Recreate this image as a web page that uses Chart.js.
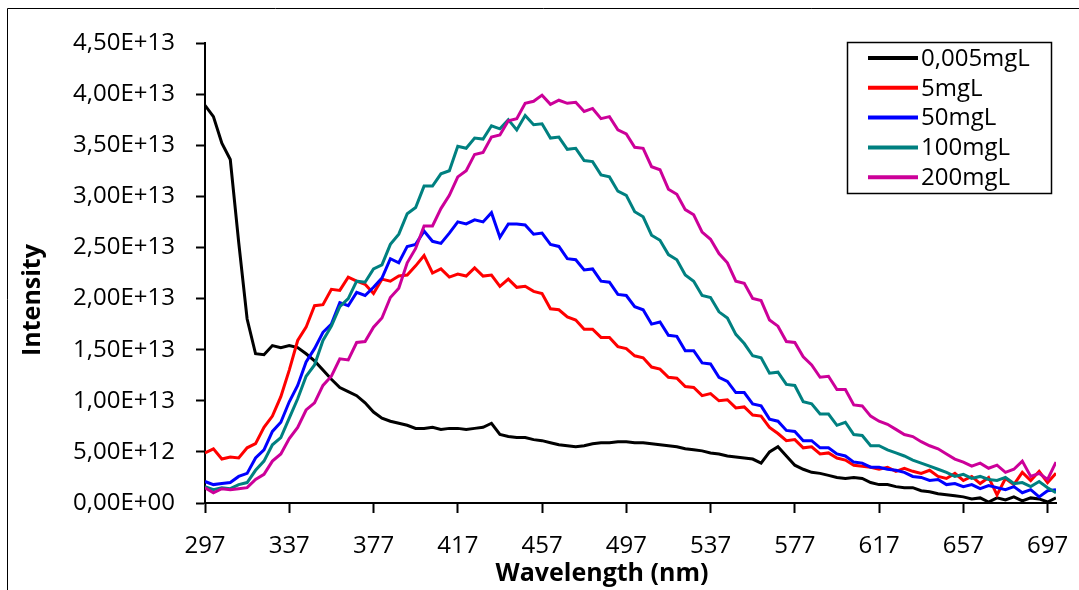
<!DOCTYPE html>
<html>
<head>
<meta charset="utf-8">
<script src="https://cdn.jsdelivr.net/npm/chart.js@4"></script>
<style>
  html, body { margin: 0; padding: 0; background: #fff; }
  #wrap { width: 1079px; height: 590px; position: relative; }
</style>
</head>
<body>
<div id="wrap"><canvas id="c" width="1079" height="590"></canvas></div>
<script>
// Wavelength grid (nm), sampled every 4 nm
const wavelengths = [];
for (let w = 297; w <= 701; w += 4) wavelengths.push(w);

const xTickValues = [297, 337, 377, 417, 457, 497, 537, 577, 617, 657, 697];
const yTickValues = [0, 5e12, 1e13, 1.5e13, 2e13, 2.5e13, 3e13, 3.5e13, 4e13, 4.5e13];

const seriesNames = ["0,005mgL", "5mgL", "50mgL", "100mgL", "200mgL"];
const seriesColors = ["#000000", "#FF0000", "#0000FF", "#008080", "#CC0099"];

// Intensities in units of 1E+12
const s0005 = [38.9,37.8,35.2,33.6,25.5,18.0,14.6,14.5,15.4,15.2,15.4,15.2,14.6,13.9,13.0,12.1,11.3,10.9,10.5,9.8,
  8.9,8.3,8.0,7.8,7.6,7.3,7.3,7.4,7.2,7.3,7.3,7.2,7.3,7.4,7.8,6.7,6.5,6.4,6.4,6.2,
  6.1,5.9,5.7,5.6,5.5,5.6,5.8,5.9,5.9,6.0,6.0,5.9,5.9,5.8,5.7,5.6,5.5,5.3,5.2,5.1,
  4.9,4.8,4.6,4.5,4.4,4.3,3.9,5.0,5.5,4.6,3.7,3.3,3.0,2.9,2.7,2.5,2.4,2.5,2.4,2.0,
  1.8,1.8,1.6,1.5,1.5,1.2,1.1,0.9,0.8,0.7,0.6,0.4,0.5,0.1,0.5,0.3,0.6,0.2,0.5,0.4,0.1,0.5];
const s5 = [4.9,5.3,4.3,4.5,4.4,5.4,5.8,7.4,8.5,10.4,13.0,15.9,17.2,19.3,19.4,20.9,20.8,22.1,21.7,21.4,
  20.5,21.9,21.7,22.2,22.3,23.2,24.2,22.5,22.9,22.1,22.4,22.2,23.0,22.2,22.3,21.2,21.9,21.1,21.2,20.7,
  20.5,19.0,18.9,18.2,17.9,17.0,17.0,16.2,16.2,15.3,15.1,14.4,14.2,13.3,13.1,12.3,12.2,11.4,11.3,10.5,
  10.7,10.0,10.1,9.3,9.4,8.6,8.5,7.4,6.8,6.1,6.2,5.4,5.5,4.8,4.9,4.4,4.2,3.7,3.6,3.5,
  3.3,3.5,3.1,3.4,3.1,2.9,3.2,2.6,2.4,2.9,2.2,2.6,1.9,2.5,0.8,2.4,1.8,3.0,2.2,3.1,2.0,2.9];
const s50 = [2.1,1.8,1.9,2.0,2.6,2.9,4.4,5.2,7.0,7.9,9.9,11.5,13.8,15.1,16.7,17.5,19.6,19.3,20.6,20.3,
  21.1,22.0,23.9,23.5,25.1,25.3,26.6,25.6,25.4,26.4,27.5,27.3,27.7,27.5,28.4,26.0,27.3,27.3,27.2,26.3,
  26.4,25.3,25.1,23.9,23.8,22.8,22.9,21.7,21.6,20.4,20.3,19.2,18.9,17.5,17.7,16.4,16.3,14.9,14.9,13.7,
  13.6,12.3,11.9,10.8,10.8,9.7,9.5,8.2,8.0,7.1,7.0,6.1,6.1,5.4,5.4,4.8,4.6,4.0,3.9,3.5,
  3.5,3.3,3.2,3.0,2.6,2.5,2.2,2.3,1.8,1.9,1.6,1.8,1.4,1.7,1.5,1.3,1.6,1.0,1.3,0.6,1.2,1.3];
const s100 = [1.6,1.3,1.5,1.4,1.8,2.0,3.2,4.1,5.7,6.4,8.3,10.2,12.4,13.5,15.9,17.3,19.2,20.0,21.7,21.6,
  22.9,23.3,25.3,26.3,28.3,28.9,31.0,31.0,32.2,32.5,34.9,34.7,35.7,35.6,36.9,36.6,37.5,36.5,37.9,37.0,
  37.1,35.7,35.8,34.6,34.7,33.5,33.4,32.1,31.9,30.5,30.1,28.5,28.0,26.2,25.7,24.3,23.8,22.3,21.7,20.3,
  20.1,18.7,18.1,16.5,15.6,14.4,14.2,12.7,12.8,11.6,11.5,9.9,9.7,8.7,8.7,7.6,7.9,6.7,6.6,5.6,
  5.6,5.2,4.9,4.6,4.2,3.9,3.6,3.3,3.0,2.6,2.8,2.4,2.6,2.3,2.2,2.5,1.9,2.0,1.6,2.1,1.5,1.0];
const s200 = [1.5,1.0,1.4,1.3,1.4,1.5,2.3,2.8,4.1,4.8,6.3,7.4,9.1,9.8,11.5,12.4,14.1,14.0,15.7,15.8,
  17.2,18.1,20.1,21.0,23.5,24.9,27.1,27.1,28.8,30.1,31.9,32.5,34.1,34.3,35.8,36.0,37.4,37.6,39.1,39.3,
  39.9,39.0,39.4,39.1,39.2,38.3,38.6,37.6,37.8,36.5,36.1,34.8,34.7,32.9,32.6,30.7,30.2,28.7,28.2,26.5,
  25.8,24.4,23.5,21.7,21.5,20.0,19.8,17.9,17.3,15.8,15.7,14.3,13.5,12.3,12.4,11.1,11.1,9.6,9.5,8.5,
  8.0,7.7,7.2,6.7,6.5,6.0,5.6,5.3,4.8,4.3,4.0,3.6,3.9,3.4,3.7,3.0,3.3,4.1,2.6,2.9,2.3,4.0];

const seriesValues = [s0005, s5, s50, s100, s200];
const UNIT = 1e12;

const FONT = "'Open Sans', 'Noto Sans', sans-serif";

function sciComma(v) {
  if (v === 0) return "0,00E+00";
  const e = Math.floor(Math.log10(v) + 1e-9);
  const m = v / Math.pow(10, e);
  return m.toFixed(2).replace('.', ',') + "E+" + (e < 10 ? "0" + e : e);
}

const datasets = seriesValues.map((vals, i) => ({
  label: seriesNames[i],
  data: vals.map((v, j) => ({ x: wavelengths[j], y: v * UNIT })),
  borderColor: seriesColors[i],
  backgroundColor: seriesColors[i],
  borderWidth: 3,
  pointRadius: 0,
  tension: 0,
  fill: false,
  order: seriesValues.length - i
}));

const decor = {
  id: 'decor',
  afterDraw(chart) {
    const ctx = chart.ctx;
    ctx.save();
    // outer frame (top and left visible)
    ctx.strokeStyle = '#000';
    ctx.lineWidth = 1;
    ctx.beginPath();
    ctx.moveTo(7.5, 590); ctx.lineTo(7.5, 8.5); ctx.lineTo(1079, 8.5);
    ctx.stroke();
    // axis titles
    ctx.fillStyle = '#000';
    ctx.font = "bold 25px " + FONT;
    ctx.textAlign = 'center';
    ctx.textBaseline = 'middle';
    ctx.fillText("Wavelength (nm)", 602, 574);
    ctx.translate(33, 300);
    ctx.rotate(-Math.PI / 2);
    ctx.fillText("Intensity", 0, 0);
    ctx.restore();

    // legend
    ctx.save();
    const bx = 847.5, by = 42.5, bw = 204, bh = 151;
    ctx.fillStyle = '#fff';
    ctx.fillRect(bx, by, bw, bh);
    ctx.strokeStyle = '#000';
    ctx.lineWidth = 1.5;
    ctx.strokeRect(bx, by, bw, bh);
    ctx.font = "24px " + FONT;
    ctx.textAlign = 'left';
    ctx.textBaseline = 'middle';
    chart.data.datasets.forEach((ds, i) => {
      const y = 58 + i * 29.8;
      ctx.strokeStyle = ds.borderColor;
      ctx.lineWidth = 4;
      ctx.beginPath();
      ctx.moveTo(868, y); ctx.lineTo(918, y);
      ctx.stroke();
      ctx.fillStyle = '#000';
      ctx.fillText(ds.label, 921, y + 1);
    });
    ctx.restore();
  }
};

new Chart(document.getElementById('c'), {
  type: 'line',
  data: { datasets },
  options: {
    responsive: false,
    animation: false,
    events: [],
    layout: { padding: { left: 0, right: 23, top: 43, bottom: 0 } },
    plugins: { legend: { display: false }, tooltip: { enabled: false } },
    scales: {
      x: {
        type: 'linear',
        min: 297,
        max: 701,
        afterBuildTicks(scale) { scale.ticks = xTickValues.map(v => ({ value: v })); },
        afterFit(scale) { scale.height = 87; scale.paddingLeft = 0; scale.paddingRight = 0; },
        ticks: { color: '#000', font: { family: FONT, size: 24 }, padding: 19, maxRotation: 0, autoSkip: false,
          callback: (v) => String(v) },
        grid: { drawOnChartArea: false, drawTicks: true, tickLength: 10, tickColor: '#000', tickWidth: 2 },
        border: { display: true, color: '#000', width: 2 }
      },
      y: {
        type: 'linear',
        min: 0,
        max: 4.5e13,
        afterBuildTicks(scale) { scale.ticks = yTickValues.map(v => ({ value: v })); },
        afterFit(scale) { scale.width = 205; },
        ticks: { color: '#000', font: { family: FONT, size: 24 }, padding: 21, autoSkip: false,
          callback: (v) => sciComma(v) },
        grid: { drawOnChartArea: false, drawTicks: true, tickLength: 9, tickColor: '#000', tickWidth: 2 },
        border: { display: true, color: '#000', width: 2 }
      }
    }
  },
  plugins: [decor]
});
</script>
</body>
</html>
